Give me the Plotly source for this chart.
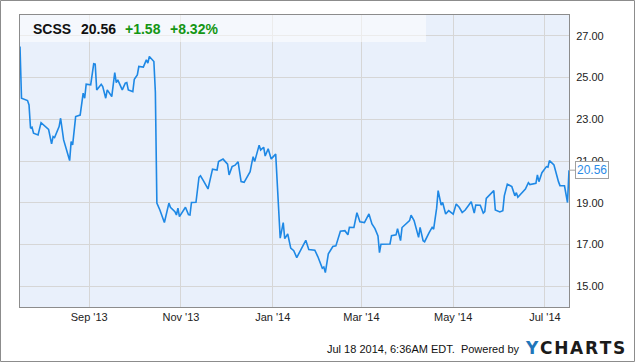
import plotly.graph_objects as go

# ---- data ----
dates = [
    "2013-07-17", "2013-07-18", "2013-07-22", "2013-07-23", "2013-07-24", "2013-07-25", "2013-07-26",
    "2013-07-29", "2013-07-31", "2013-08-01", "2013-08-05", "2013-08-07", "2013-08-08", "2013-08-09",
    "2013-08-12", "2013-08-13", "2013-08-15", "2013-08-19", "2013-08-20", "2013-08-21", "2013-08-23",
    "2013-08-26", "2013-08-28", "2013-08-29", "2013-08-30", "2013-09-02", "2013-09-04", "2013-09-05",
    "2013-09-06", "2013-09-09", "2013-09-10", "2013-09-12", "2013-09-13", "2013-09-16", "2013-09-18",
    "2013-09-19", "2013-09-20", "2013-09-23", "2013-09-25", "2013-09-26", "2013-09-27", "2013-09-30",
    "2013-10-01", "2013-10-03", "2013-10-04", "2013-10-07", "2013-10-09", "2013-10-10", "2013-10-11",
    "2013-10-14", "2013-10-15", "2013-10-16", "2013-10-18", "2013-10-21", "2013-10-24", "2013-10-25",
    "2013-10-28", "2013-10-29", "2013-10-30", "2013-10-31", "2013-11-04", "2013-11-06", "2013-11-07",
    "2013-11-08", "2013-11-11", "2013-11-13", "2013-11-14", "2013-11-16", "2013-11-19", "2013-11-22",
    "2013-11-25", "2013-11-26", "2013-11-29", "2013-12-02", "2013-12-03", "2013-12-05", "2013-12-07",
    "2013-12-09", "2013-12-11", "2013-12-13", "2013-12-17", "2013-12-18", "2013-12-19", "2013-12-20",
    "2013-12-23", "2013-12-24", "2013-12-26", "2013-12-27", "2013-12-29", "2013-12-31", "2014-01-03",
    "2014-01-06", "2014-01-08", "2014-01-09", "2014-01-11", "2014-01-13", "2014-01-15", "2014-01-17",
    "2014-01-23", "2014-01-25", "2014-01-29", "2014-01-31", "2014-02-03", "2014-02-04", "2014-02-05",
    "2014-02-07", "2014-02-10", "2014-02-12", "2014-02-15", "2014-02-18", "2014-02-20", "2014-02-21",
    "2014-02-24", "2014-02-26", "2014-02-28", "2014-03-03", "2014-03-06", "2014-03-08", "2014-03-10",
    "2014-03-12", "2014-03-13", "2014-03-14", "2014-03-20", "2014-03-21", "2014-03-24", "2014-03-25",
    "2014-03-27", "2014-03-28", "2014-04-01", "2014-04-02", "2014-04-03", "2014-04-05", "2014-04-08",
    "2014-04-09", "2014-04-11", "2014-04-12", "2014-04-15", "2014-04-17", "2014-04-18", "2014-04-20",
    "2014-04-21", "2014-04-23", "2014-04-24", "2014-04-26", "2014-04-28", "2014-05-01", "2014-05-03",
    "2014-05-05", "2014-05-07", "2014-05-09", "2014-05-13", "2014-05-15", "2014-05-16", "2014-05-19",
    "2014-05-21", "2014-05-22", "2014-05-23", "2014-05-28", "2014-05-29", "2014-06-01", "2014-06-03",
    "2014-06-04", "2014-06-06", "2014-06-09", "2014-06-11", "2014-06-12", "2014-06-13", "2014-06-18",
    "2014-06-20", "2014-06-21", "2014-06-25", "2014-06-26", "2014-06-27", "2014-06-29", "2014-07-02",
    "2014-07-03", "2014-07-04", "2014-07-07", "2014-07-10", "2014-07-11", "2014-07-14", "2014-07-16",
    "2014-07-17",
]
prices = [
    26.49, 24.01, 23.90, 23.69, 22.57, 22.62, 22.33,
    22.25, 22.84, 22.78, 22.52, 21.82, 22.17, 22.12,
    22.65, 23.05, 22.01, 21.02, 21.93, 21.77, 23.13,
    23.20, 24.25, 24.01, 24.68, 24.65, 25.66, 25.64,
    24.41, 24.68, 24.57, 24.01, 24.41, 24.09, 25.24,
    24.76, 24.89, 24.41, 24.73, 24.76, 24.41, 24.33,
    24.92, 25.13, 25.53, 25.50, 25.85, 25.69, 26.01,
    25.77, 24.30, 18.98, 18.65, 18.05, 18.98, 18.78,
    18.57, 18.41, 18.74, 18.33, 18.78, 18.43, 18.41,
    19.01, 19.02, 20.22, 20.29, 20.05, 19.66, 20.61,
    20.57, 20.97, 21.09, 20.85, 20.33, 20.73, 20.80,
    20.96, 20.01, 19.98, 20.49, 20.86, 21.21, 20.97,
    21.76, 21.53, 21.66, 21.24, 21.59, 21.10, 21.33,
    17.30, 18.05, 17.28, 17.50, 16.82, 16.70, 16.37,
    17.20, 16.76, 16.72, 16.42, 15.86, 15.91, 15.65,
    16.55, 16.90, 16.93, 17.63, 17.66, 17.46, 17.82,
    17.81, 18.52, 18.09, 18.05, 18.46, 17.98, 17.76,
    17.41, 16.61, 17.01, 17.02, 17.42, 17.46, 17.76,
    17.18, 17.81, 18.09, 18.14, 18.40, 18.14, 17.34,
    17.82, 17.18, 17.13, 17.57, 17.82, 17.73, 18.74,
    19.58, 18.89, 19.01, 18.46, 18.62, 18.45, 18.94,
    18.78, 18.53, 18.65, 19.05, 18.50, 18.89, 18.88,
    18.50, 18.57, 19.21, 19.58, 18.65, 18.56, 18.62,
    19.33, 19.89, 19.77, 19.33, 19.48, 19.26, 19.65,
    19.96, 19.87, 19.93, 20.33, 20.01, 20.44, 20.73,
    20.70, 21.02, 20.81, 20.01, 19.82, 19.81, 19.01,
    20.56,
]

tick_dates = ["2013-09-01", "2013-11-01", "2014-01-01", "2014-03-01", "2014-05-01", "2014-07-01"]
tick_labels = ["Sep '13", "Nov '13", "Jan '14", "Mar '14", "May '14", "Jul '14"]
y_ticks = [15, 17, 19, 21, 23, 25, 27]

ticker = "SCSS"
last_price = "20.56"
change = "+1.58"
change_pct = "+8.32%"
footer = "Jul 18 2014, 6:36AM EDT.  Powered by"

# ---- layout geometry ----
W, H = 635, 362
ML, MR, MT, MB = 20, 66, 15, 55
PW, PH = W - ML - MR, H - MT - MB


def px(xp):
    return (xp - ML) / PW


def py(yp):
    return (H - MB - yp) / PH


LINE = "#1E88E5"
GREEN = "#149614"
FONT = "Liberation Sans, Arial, sans-serif"

fig = go.Figure()
fig.add_trace(go.Scatter(
    x=dates, y=prices, mode="lines",
    line=dict(color=LINE, width=1.6),
    hoverinfo="skip", showlegend=False,
))

fig.update_layout(
    width=W, height=H,
    margin=dict(l=ML, r=MR, t=MT, b=MB, pad=0),
    paper_bgcolor="white",
    plot_bgcolor="#E9F0FB",
    font=dict(family=FONT, size=11, color="#222"),
    xaxis=dict(
        range=[dates[0], dates[-1]],
        tickvals=tick_dates, ticktext=tick_labels,
        showgrid=True, gridcolor="#D6D6D6", gridwidth=1,
        showline=True, linecolor="#8C8C8C", linewidth=1, mirror=True,
        ticks="", zeroline=False,
        tickfont=dict(size=11, color="#222"),
    ),
    yaxis=dict(
        range=[14, 28], side="right",
        tickvals=y_ticks, tickformat=".2f",
        showgrid=True, gridcolor="#D6D6D6", gridwidth=1,
        showline=True, linecolor="#8C8C8C", linewidth=1, mirror=True,
        ticks="", zeroline=False, ticklabelstandoff=4,
        tickfont=dict(size=11, color="#222"),
    ),
)

# header band
fig.add_shape(type="rect", xref="paper", yref="paper",
              x0=0, x1=px(426), y0=py(42), y1=1,
              fillcolor="rgba(255,255,255,0.55)", line=dict(width=0), layer="above")
# outer border of the whole image
fig.add_shape(type="rect", xref="paper", yref="paper",
              x0=px(0.5), x1=px(W - 0.5), y0=py(H - 0.5), y1=py(0.5),
              line=dict(color="#8C8C8C", width=1), fillcolor="rgba(0,0,0,0)")

header = [(ticker, 31, "#111"), (last_price, 79, "#111"), (change, 123, GREEN), (change_pct, 168, GREEN)]
for txt, xp, col in header:
    fig.add_annotation(xref="paper", yref="paper", x=px(xp), y=py(29),
                       xanchor="left", yanchor="middle", showarrow=False,
                       text="<b>%s</b>" % txt, font=dict(size=14, color=col, family=FONT))

# last price callout
fig.add_annotation(x=dates[-1], y=prices[-1], text=last_price,
                   showarrow=True, arrowhead=0, arrowwidth=1, arrowcolor="#A0A0A0",
                   ax=23, ay=0, standoff=0,
                   bgcolor="white", bordercolor="#A0A0A0", borderwidth=1, borderpad=1,
                   font=dict(size=12, color="#2B8BE6", family=FONT))

# footer
fig.add_annotation(xref="paper", yref="paper", x=px(521), y=py(349),
                   xanchor="right", yanchor="middle", showarrow=False,
                   text=footer, font=dict(size=11, color="#111", family=FONT))
sp = "\u200a"
fig.add_annotation(xref="paper", yref="paper", x=px(523), y=py(348),
                   xanchor="left", yanchor="middle", showarrow=False,
                   text="<b><span style='color:#1F76BA'>Y</span>" + sp + sp.join("CHARTS") + "</b>",
                   font=dict(size=17, color="#1B1B1B", family="DejaVu Sans, sans-serif"))

fig.write_html("out.html")
